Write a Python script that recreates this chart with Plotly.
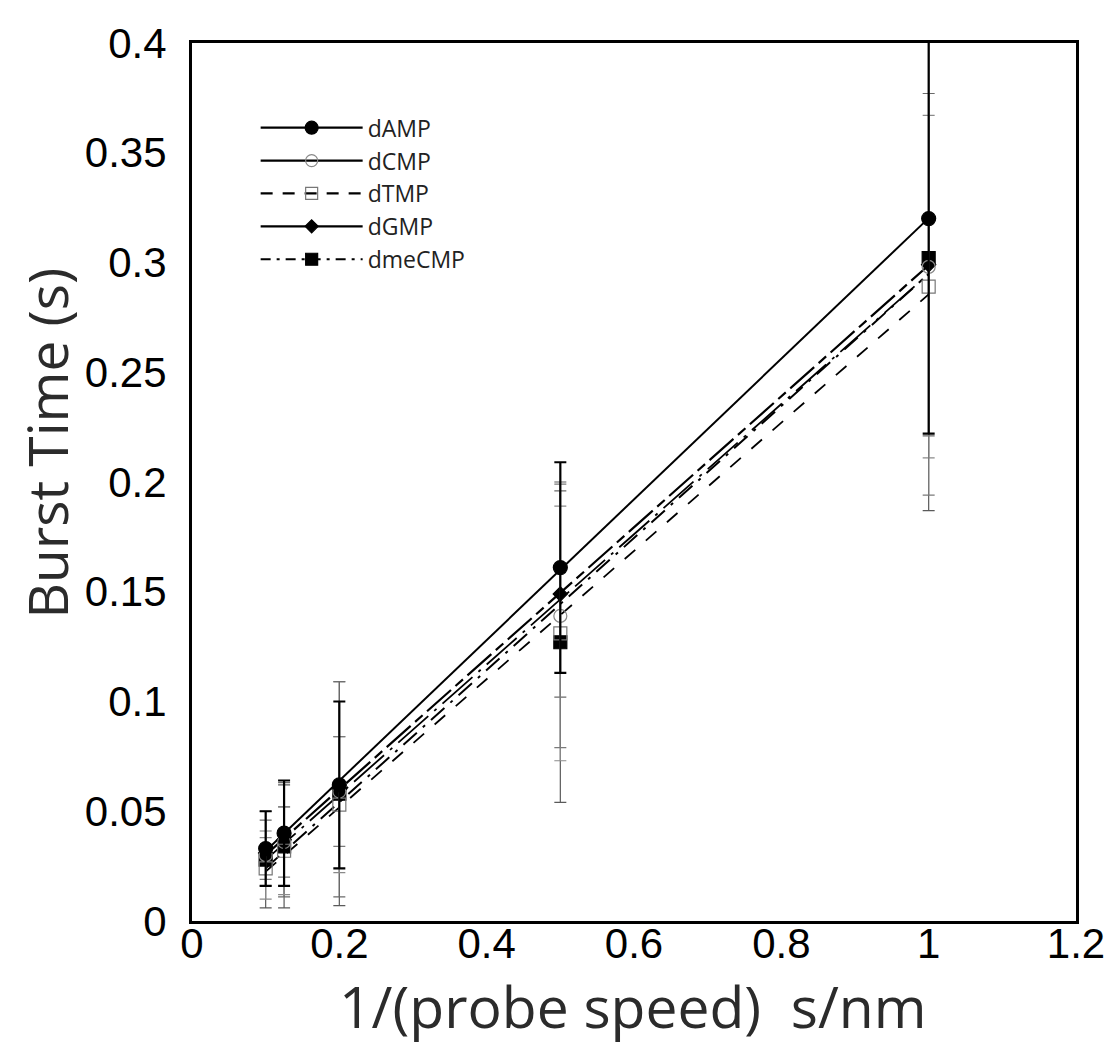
import numpy as np
import plotly.graph_objects as go

# ---- data ----
inv_speed = [0.1, 0.125, 0.2, 0.5, 1.0]

series_names = ["dAMP", "dCMP", "dTMP", "dGMP", "dmeCMP"]

dAMP = [0.033, 0.040, 0.062, 0.161, 0.320]
dAMP_err = [0.017, 0.024, 0.038, 0.048, 0.098]

dCMP = [0.030, 0.036, 0.059, 0.139, 0.298]
dCMP_err = [0.011, 0.016, 0.025, 0.060, 0.104]

dTMP = [0.024, 0.032, 0.053, 0.131, 0.289]
dTMP_err = [0.014, 0.020, 0.031, 0.058, 0.078]

dGMP = [0.031, 0.037, 0.060, 0.149, 0.299]
dGMP_err = [0.015, 0.026, 0.049, 0.047, 0.078]

dmeCMP = [0.028, 0.034, 0.058, 0.127, 0.302]
dmeCMP_err = [0.022, 0.028, 0.051, 0.073, 0.115]

x_ticks = [0, 0.2, 0.4, 0.6, 0.8, 1.0, 1.2]
x_ticklabels = ["0", "0.2", "0.4", "0.6", "0.8", "1", "1.2"]
y_ticks = [0, 0.05, 0.1, 0.15, 0.2, 0.25, 0.3, 0.35, 0.4]
y_ticklabels = ["0", "0.05", "0.1", "0.15", "0.2", "0.25", "0.3", "0.35", "0.4"]

values = [dAMP, dCMP, dTMP, dGMP, dmeCMP]
errors = [dAMP_err, dCMP_err, dTMP_err, dGMP_err, dmeCMP_err]

# ---- styles ----
styles = {
    "dAMP": dict(symbol="circle", size=14, mcolor="black", lcolor="black",
                 dash="solid", lw=2.0, ecolor="black", ew=2.2, ecap=6),
    "dCMP": dict(symbol="circle-open", size=13, mcolor="#888888", lcolor="black",
                 dash="40px,8px,3px,8px", lw=1.8, ecolor="#7a7a7a", ew=1.2, ecap=6),
    "dTMP": dict(symbol="square-open", size=13, mcolor="#777777", lcolor="black",
                 dash="14px,14px", lw=1.8, ecolor="#8a8a8a", ew=1.2, ecap=6),
    "dGMP": dict(symbol="diamond", size=11, mcolor="black", lcolor="black",
                 dash="32px,6px,10px,6px", lw=2.2, ecolor="#6a6a6a", ew=1.2, ecap=6),
    "dmeCMP": dict(symbol="square", size=13, mcolor="black", lcolor="black",
                   dash="18px,8px,3px,8px", lw=2.0, ecolor="#5a5a5a", ew=1.2, ecap=6),
}
legend_dash = {"dAMP": "solid", "dCMP": "solid", "dTMP": "12px,10px",
               "dGMP": "solid", "dmeCMP": "10px,6px,3px,6px"}

fig = go.Figure()

x_arr = np.array(inv_speed)
x_line = np.array([min(inv_speed), max(inv_speed)])

# fitted lines
for name, y in zip(series_names, values):
    st = styles[name]
    m, b = np.polyfit(x_arr, np.array(y), 1)
    fig.add_trace(go.Scatter(
        x=x_line, y=m * x_line + b, mode="lines",
        line=dict(color=st["lcolor"], width=st["lw"], dash=st["dash"]),
        showlegend=False, hoverinfo="skip"))

# data points with error bars (dAMP drawn last so its bar is on top)
order = [4, 3, 2, 1, 0]
for i in order:
    name = series_names[i]
    st = styles[name]
    fig.add_trace(go.Scatter(
        x=inv_speed, y=values[i], mode="markers",
        marker=dict(symbol=st["symbol"], size=st["size"], color=st["mcolor"],
                    line=dict(color=st["mcolor"], width=1.2)),
        error_y=dict(type="data", array=errors[i], visible=True,
                     color=st["ecolor"], thickness=st["ew"], width=st["ecap"]),
        showlegend=False, name=name))

# legend entries
for name in series_names:
    st = styles[name]
    fig.add_trace(go.Scatter(
        x=[None], y=[None], mode="lines+markers", name=name,
        marker=dict(symbol=st["symbol"], size=st["size"] - 1, color=st["mcolor"],
                    line=dict(color=st["mcolor"], width=1.2)),
        line=dict(color=st["lcolor"], width=2.2, dash=legend_dash[name])))

title_font = dict(family="Open Sans, Noto Sans, sans-serif", size=55, color="#2b2b2b")
xtitle_font = dict(family="Open Sans, Noto Sans, sans-serif", size=57, color="#2b2b2b")

fig.update_layout(
    width=1119, height=1053,
    margin=dict(l=184, r=51, t=27, b=140),
    plot_bgcolor="white", paper_bgcolor="white",
    font=dict(family="Liberation Sans, Arial, sans-serif", color="black"),
    legend=dict(x=0.072, y=0.928, xanchor="left", yanchor="top",
                bgcolor="rgba(0,0,0,0)", borderwidth=0,
                font=dict(family="Open Sans, Noto Sans, sans-serif", size=23, color="#222"),
                itemwidth=102),
    xaxis=dict(range=[0, 1.2], tickvals=x_ticks, ticktext=x_ticklabels,
               showgrid=False, zeroline=False, showline=True, mirror=True,
               linecolor="black", linewidth=3, ticks="",
               ticklabelstandoff=-16,
               tickfont=dict(size=42, color="black")),
    yaxis=dict(range=[0, 0.4], tickvals=y_ticks, ticktext=y_ticklabels,
               showgrid=False, zeroline=False, showline=True, mirror=True,
               linecolor="black", linewidth=3, ticks="",
               ticklabelstandoff=14,
               tickfont=dict(size=42, color="black")),
    annotations=[
        dict(text="Burst Time (s)", xref="paper", yref="paper",
             x=-0.165, y=0.544, xanchor="center", yanchor="middle",
             textangle=-90, showarrow=False, font=title_font),
        dict(text="1/(probe speed)  s/nm", xref="paper", yref="paper",
             x=0.499, y=-0.097, xanchor="center", yanchor="middle",
             showarrow=False, font=xtitle_font),
    ],
)

fig.write_html("out.html")
